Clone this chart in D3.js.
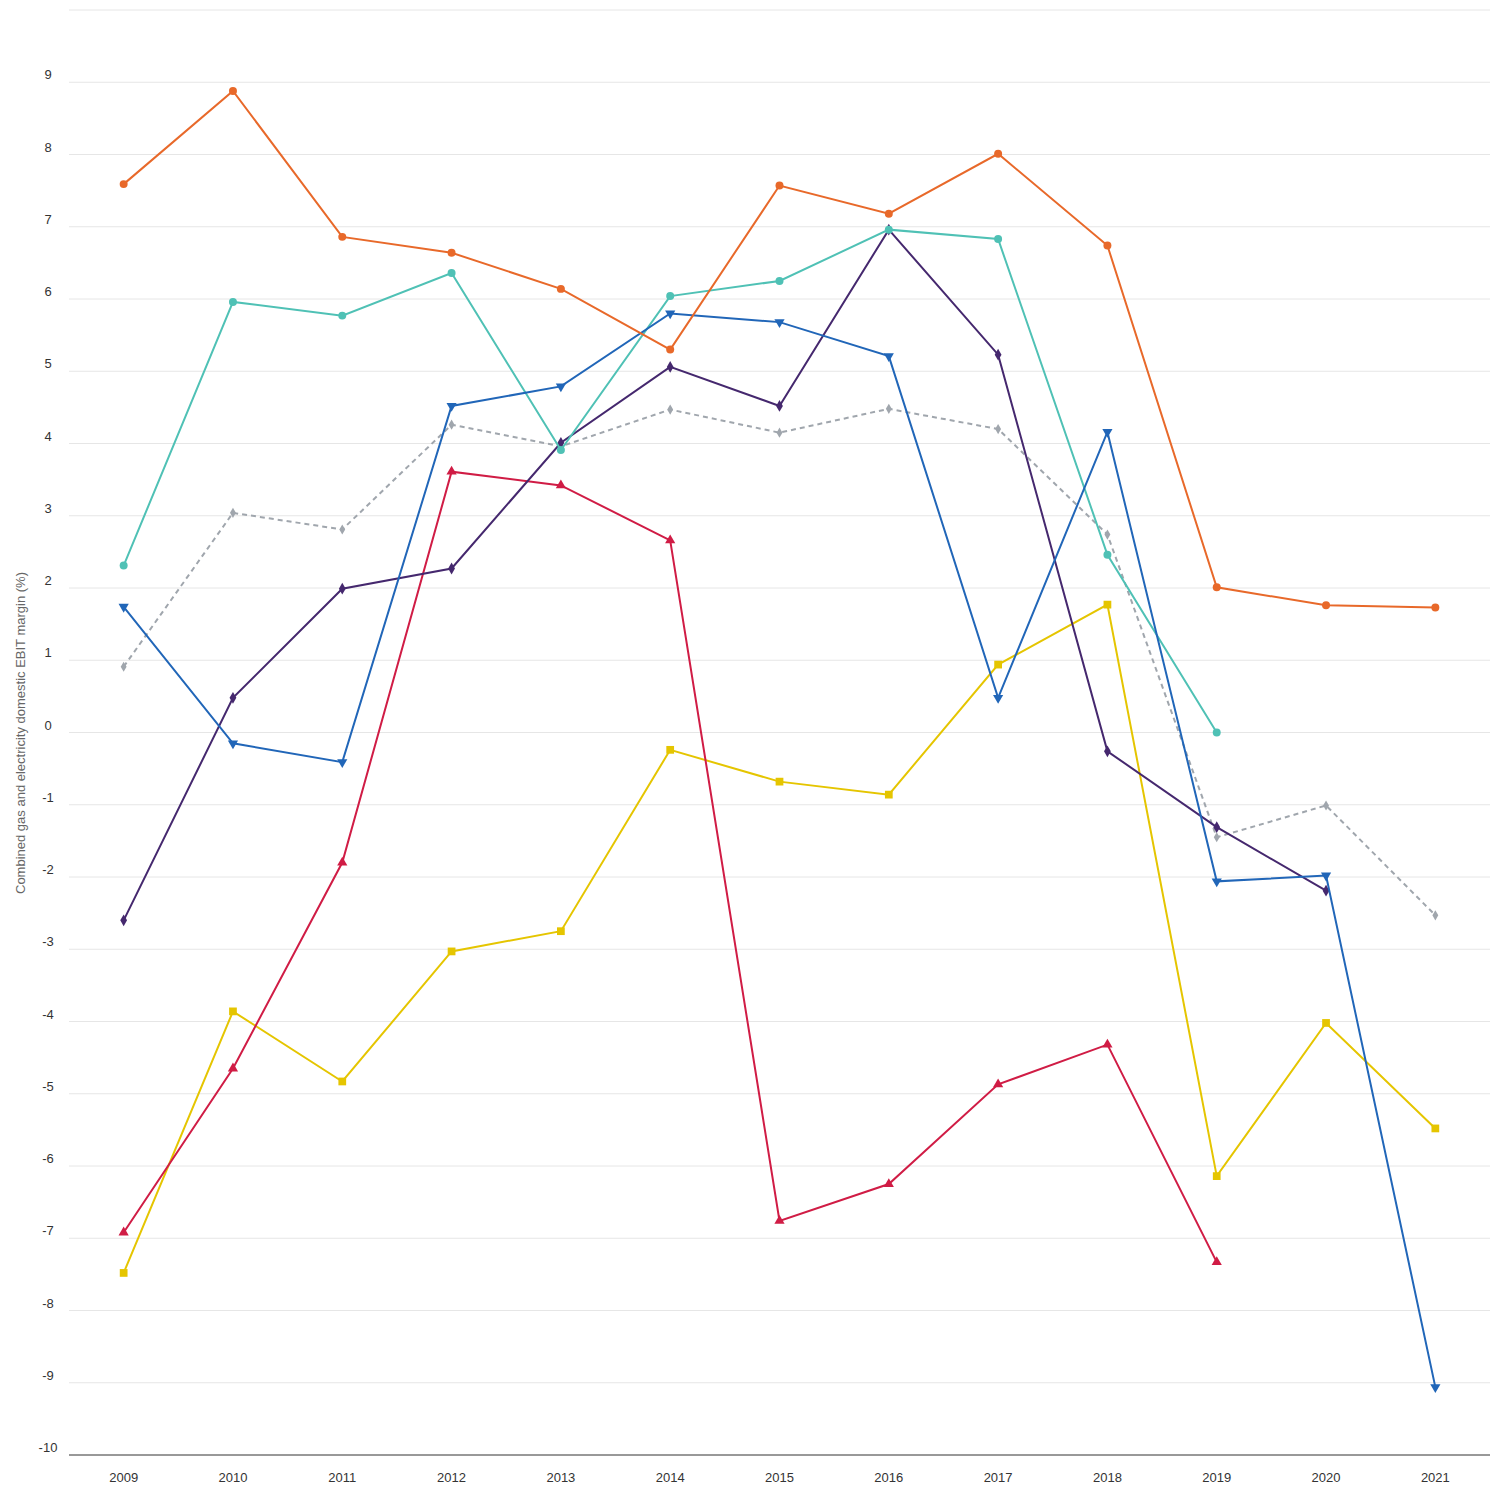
<!DOCTYPE html>
<html><head><meta charset="utf-8">
<script src="https://cdn.jsdelivr.net/npm/d3@7"></script>
<style>body{margin:0;background:#fff;font-family:"Liberation Sans",Arial,sans-serif;}</style>
</head><body><svg id="chart"></svg>
<script>
const years = ["2009","2010","2011","2012","2013","2014","2015","2016","2017","2018","2019","2020","2021"];
const orange = [7.59,8.88,6.86,6.64,6.14,5.30,7.57,7.18,8.01,6.74,2.01,1.76,1.73];
const teal = [2.31,5.96,5.77,6.36,3.91,6.04,6.25,6.96,6.83,2.46,0,null,null];
const blue = [1.74,-0.15,-0.41,4.52,4.79,5.80,5.68,5.21,0.48,4.16,-2.06,-1.98,-9.06];
const purple = [-2.60,0.48,1.99,2.27,4.01,5.06,4.52,6.96,5.23,-0.26,-1.31,-2.19,null];
const grey = [0.91,3.04,2.81,4.26,3.96,4.47,4.15,4.48,4.20,2.74,-1.45,-1.01,-2.53];
const red = [-6.92,-4.65,-1.80,3.61,3.42,2.66,-6.76,-6.25,-4.87,-4.32,-7.33,null,null];
const yellow = [-7.48,-3.86,-4.83,-3.03,-2.75,-0.24,-0.68,-0.86,0.94,1.77,-6.14,-4.02,-5.48];
const yTicks = d3.range(-10, 10, 1);

const series = [
  {v: grey, c: "#a0a6ad", sym: d3.symbolDiamond, size: 30, dash: "5,4"},
  {v: yellow, c: "#e5c500", sym: d3.symbolSquare, size: 60},
  {v: red, c: "#d01c45", sym: d3.symbolTriangle, size: 45},
  {v: purple, c: "#45286e", sym: d3.symbolDiamond, size: 40},
  {v: teal, c: "#4fc1b5", sym: d3.symbolCircle, size: 50},
  {v: blue, c: "#2166b8", sym: d3.symbolTriangle, size: 45, rot: 180},
  {v: orange, c: "#e8692a", sym: d3.symbolCircle, size: 50}
];

const width = 1500, height = 1500;
const mLeft = 69, mRight = 1490, mTop = 10, mBottom = 1455;
const svg = d3.select("#chart").attr("width", width).attr("height", height);

const x = d3.scalePoint().domain(years).range([mLeft, mRight]).padding(0.5);
const y = d3.scaleLinear().domain([-10, 10]).range([mBottom, mTop]);

svg.selectAll(".grid").data(d3.range(-9, 11)).enter().append("line")
  .attr("x1", mLeft).attr("x2", mRight)
  .attr("y1", d => y(d)).attr("y2", d => y(d))
  .attr("stroke", "#e6e6e6");
svg.append("line").attr("x1", mLeft).attr("x2", mRight)
  .attr("y1", mBottom).attr("y2", mBottom).attr("stroke", "#333");

svg.selectAll(".yl").data(yTicks).enter().append("text")
  .attr("x", 48).attr("y", d => y(d) - 3)
  .attr("text-anchor", "middle").attr("font-size", 13).attr("fill", "#333")
  .text(d => d);
svg.selectAll(".xl").data(years).enter().append("text")
  .attr("x", d => x(d)).attr("y", 1482)
  .attr("text-anchor", "middle").attr("font-size", 13).attr("fill", "#333")
  .text(d => d);
svg.append("text").attr("transform", "translate(25,733) rotate(-90)")
  .attr("text-anchor", "middle").attr("font-size", 13).attr("fill", "#666")
  .text("Combined gas and electricity domestic EBIT margin (%)");

const line = d3.line().defined(d => d[1] != null).x(d => x(d[0])).y(d => y(d[1]));
series.forEach(s => {
  const pts = years.map((yr, i) => [yr, s.v[i]]);
  svg.append("path").datum(pts).attr("fill", "none").attr("stroke", s.c)
    .attr("stroke-width", 2).attr("stroke-dasharray", s.dash || null).attr("d", line);
  svg.selectAll(null).data(pts.filter(d => d[1] != null)).enter().append("path")
    .attr("d", d3.symbol().type(s.sym).size(s.size))
    .attr("transform", d => `translate(${x(d[0])},${y(d[1])}) rotate(${s.rot || 0})`)
    .attr("fill", s.c);
});
</script></body></html>
